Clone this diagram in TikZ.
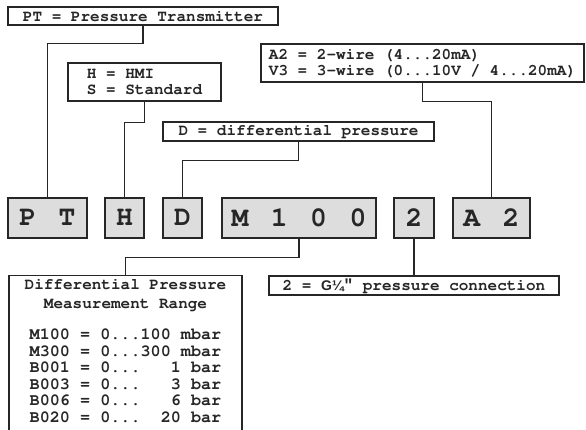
\documentclass[tikz,border=0pt]{standalone}
\usepackage[T1,TU]{fontenc}
\usepackage{fontspec}
\newfontfamily\arialf{Liberation Sans}
\newfontfamily\monof{Liberation Mono}
\newcommand\cour{\fontencoding{T1}\fontfamily{pcr}\fontseries{b}\fontshape{n}\selectfont}
\newcommand\fixsp{\spaceskip=0.6em\relax\xspaceskip=0.6em\relax}
\definecolor{boxfill}{HTML}{DCDDDC}
\definecolor{ink}{HTML}{262626}
\newcommand\cgap{\hspace*{22.5pt}}
\begin{document}
\begin{tikzpicture}[x=1pt,y=-1pt,
  font={\fontsize{16}{16.4}\cour},
  desc/.style={draw=ink, line width=1.3pt, fill=white, inner sep=0pt, text=ink},
  codebox/.style={draw=ink, line width=1.4pt, fill=boxfill, inner sep=0pt,
    minimum height=40pt, text=ink, font={\fontsize{28}{28}\cour}},
  link/.style={draw=ink, line width=1.2pt},
  thicklink/.style={draw=ink, line width=2.6pt}]
\useasboundingbox (0,0) rectangle (586,429);
\clip (0,0) rectangle (586,429);

% description boxes
\node[desc, minimum width=270pt, minimum height=18pt] (ptdesc) at (143,16) {PT = Pressure Transmitter};
\node[desc, minimum width=153pt, minimum height=38pt, align=left] (hsdesc) at (144.5,82) {H = HMI\\S = Standard};
\node[desc, minimum width=271pt, minimum height=19pt] (ddesc) at (298.5,131.5) {D = differential pressure};
\node[desc, minimum width=323pt, minimum height=38pt, align=left] (a2desc) at (422.5,63) {A2 = 2-wire (4...20mA)\\V3 = 3-wire (0...10V / 4...20mA)};

% code boxes
\node[codebox, minimum width=79pt] (cpt) at (47.5,218) {P\cgap T};
\node[codebox, minimum width=39pt] (ch) at (124.5,218) {H};
\node[codebox, minimum width=39pt] (cd) at (182.5,218) {D};
\node[codebox, minimum width=154pt] (cm) at (299,218) {M\cgap 1\cgap 0\cgap 0};
\node[codebox, minimum width=40pt] (c2) at (414,218) {2};
\node[codebox, minimum width=77pt] (ca) at (491.5,218) {A\cgap 2};

% lower description boxes
\node[desc, minimum width=290pt, minimum height=19pt] (gdesc) at (414,285.5)
  {2 = {\arialf\fontsize{14}{14}\selectfont G¼}{\monof\bfseries ″} pressure connection};
\node[desc, anchor=north, text width=233pt, align=flush center, inner ysep=3pt] (range) at (125.5,275)
  {\fixsp Differential Pressure\\[2.5pt]Measurement Range\\[17pt]
   {\fontsize{16.8}{16.5}\cour\fixsp
   \begin{tabular}{@{}l@{}}
   M100 = 0...100 mbar\\
   M300 = 0...300 mbar\\
   B001 = 0... \phantom{00}1 bar\\
   B003 = 0... \phantom{00}3 bar\\
   B006 = 0... \phantom{00}6 bar\\
   B020 = 0... \phantom{0}20 bar
   \end{tabular}}\\[40pt]};

% connectors
\draw[link] (ptdesc.south) -- ++(0,18) -| (cpt.north);
\draw[link] (hsdesc.south) -- ++(0,21) -| (ch.north);
\draw[link] (ddesc.south) -- ++(0,19) -| (cd.north);
\draw[link] (a2desc.south) -- ++(0,19) -| (ca.north);
\draw[link] (cm.south) -- ++(0,19) -| (range.north);
\draw[thicklink] (c2.south) -- (gdesc.north);
\end{tikzpicture}
\end{document}
